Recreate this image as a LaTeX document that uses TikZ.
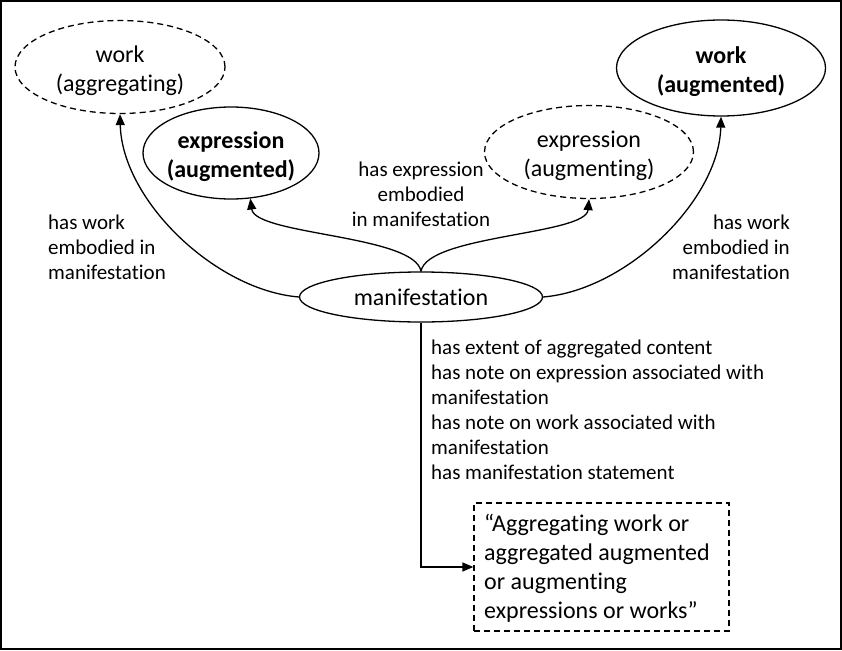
\documentclass[tikz,border=0pt]{standalone}
\usepackage{fontspec}
\setmainfont{Carlito}[Ligatures=CommonOff]
\usetikzlibrary{arrows.meta,shapes.geometric}
\begin{document}
\begin{tikzpicture}[x=1pt,y=-1pt,
  ent/.style={ellipse,draw,line width=1.3pt,inner sep=0pt},
  enttext/.style={inner sep=0pt,align=center,font=\fontsize{24}{29}\selectfont},
  dashline/.style={dash pattern=on 6pt off 4pt},
  lbl/.style={inner sep=0pt,font=\fontsize{21}{25}\selectfont},
  conn/.style={line width=1.3pt,-{Triangle[length=11pt,width=9pt]}}]
\useasboundingbox (0,0) rectangle (842,650);
\draw[line width=2pt] (1,1) rectangle (841,649);

\node[ent,dashline,minimum width=210pt,minimum height=93pt] (waggr) at (120,67) {};
\node[enttext,yshift=-4pt] (waggrt) at (waggr.center) {work\\(aggregating)};
\node[ent,minimum width=176pt,minimum height=92pt] (eaug) at (231,153) {};
\node[enttext,yshift=-4pt] (eaugt) at (eaug.center) {\textbf{expression}\\\textbf{(augmented)}};
\node[ent,dashline,minimum width=209pt,minimum height=93pt] (eaugm) at (589,152) {};
\node[enttext,yshift=-4pt] (eaugmt) at (eaugm.center) {expression\\(augmenting)};
\node[ent,minimum width=209pt,minimum height=96pt] (waug) at (721,68) {};
\node[enttext,yshift=-4pt] (waugt) at (waug.center) {\textbf{work}\\\textbf{(augmented)}};
\node[ent,minimum width=243pt,minimum height=50pt] (man) at (421,297) {};
\node[enttext] (mant) at (man.center) {manifestation};

\node[draw,dashline,line width=1.3pt,minimum width=255pt,minimum height=128pt,inner sep=0pt] (box) at (601.5,567) {};
\node[inner sep=0pt,align=left,anchor=north west,font=\fontsize{24}{29}\selectfont] (boxt) at (484,513.5)
  {“Aggregating work or\\aggregated augmented\\or augmenting\\expressions or works”};

\node[lbl,align=left,anchor=north west] (lleft) at (48,214.5) {has work\\embodied in\\manifestation};
\node[lbl,align=right,anchor=north east] (lright) at (790,214.5) {has work\\embodied in\\manifestation};
\node[lbl,align=center,anchor=north] (lmid) at (421,161.5) {has expression\\embodied\\in manifestation};
\node[lbl,align=left,anchor=north west] (llist) at (431,339.5) {has extent of aggregated content\\has note on expression associated with\\manifestation\\has note on work associated with\\manifestation\\has manifestation statement};

\draw[conn] (man.west) .. controls (215,290) and (122,200) .. (waggr.south);
\draw[conn] (man.east) .. controls (627,290) and (719,200) .. (waug.south);
\draw[conn] (man.north) .. controls (415,235) and (255,235) .. (eaug.-67);
\draw[conn] (man.north) .. controls (427,235) and (586,235) .. (eaugm.south);
\draw[conn] (man.south) |- (box.west);
\end{tikzpicture}
\end{document}
